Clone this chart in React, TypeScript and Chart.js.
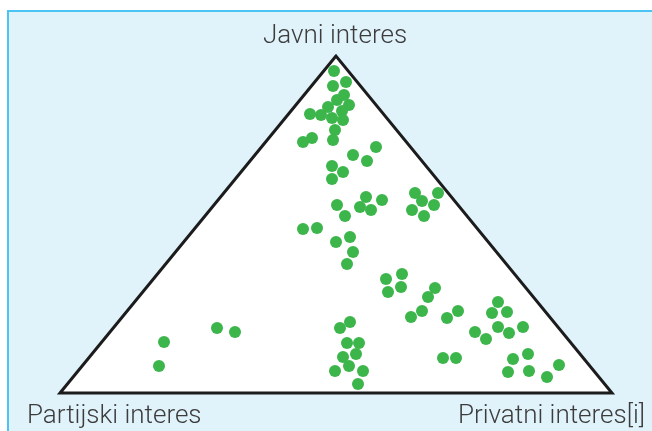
import React, { useEffect, useRef } from "react";
import { Chart, registerables } from "chart.js";

Chart.register(...registerables);

// Corner labels of the triangle (top, bottom-left, bottom-right)
const cornerLabels = ["Javni interes", "Partijski interes", "Privatni interes[i]"];

// Triangle vertices in data units (x along base, y = height above base);
// the outline revisits the first edge so every corner gets a mitred join
const triangleX = [0, 276, 552, 0, 276];
const triangleY = [0, 337, 0, 0, 337];

// Dot positions
const dotX = [
  274, 286, 273, 284, 277, 289, 268, 282, 250, 261, 272, 283, 275, 252, 243, 273,
  316, 293, 307, 272, 283, 272, 355, 378, 362, 306, 322, 277, 300, 311, 352, 374,
  285, 364, 243, 257, 290, 276, 293, 287, 326, 342, 328, 341, 375, 368, 362, 351,
  398, 387, 438, 432, 447, 415, 426, 438, 449, 463, 383, 396, 453, 468, 448, 469,
  487, 499, 104, 99, 157, 175, 290, 280, 287, 299, 296, 283, 289, 275, 303, 298,
];
const dotY = [
  322, 311, 307, 298, 293, 288, 286, 282, 279, 278, 275, 273, 263, 255, 251, 253,
  246, 238, 232, 227, 221, 214, 200, 200, 192, 196, 193, 188, 186, 183, 183, 188,
  177, 177, 164, 165, 156, 151, 141, 129, 114, 119, 101, 106, 105, 96, 82, 76,
  82, 75, 91, 80, 81, 61, 54, 66, 60, 66, 35, 35, 34, 39, 21, 22,
  16, 28, 51, 27, 65, 61, 71, 65, 50, 50, 39, 36, 27, 22, 22, 9,
];

const W = 652;
const H = 431;

const trianglePlugin = {
  id: "triangleFill",
  beforeDatasetsDraw(chart: any) {
    const ctx = chart.ctx;
    const xs = chart.scales.x;
    const ys = chart.scales.y;
    ctx.save();
    ctx.beginPath();
    for (let i = 0; i < 3; i++) {
      const px = xs.getPixelForValue(triangleX[i]);
      const py = ys.getPixelForValue(triangleY[i]);
      if (i === 0) ctx.moveTo(px, py);
      else ctx.lineTo(px, py);
    }
    ctx.closePath();
    ctx.fillStyle = "#ffffff";
    ctx.fill();
    ctx.restore();
  },
};

const labelPlugin = {
  id: "cornerLabels",
  afterDraw(chart: any) {
    const ctx = chart.ctx;
    const xs = chart.scales.x;
    const ys = chart.scales.y;
    const apexX = xs.getPixelForValue(triangleX[1]);
    const apexY = ys.getPixelForValue(triangleY[1]);
    const leftX = xs.getPixelForValue(triangleX[0]);
    const baseY = ys.getPixelForValue(triangleY[0]);
    const rightX = xs.getPixelForValue(triangleX[2]);
    ctx.save();
    ctx.font = "300 26px Roboto, 'Liberation Sans', sans-serif";
    ctx.fillStyle = "#3c3c3c";
    ctx.textBaseline = "alphabetic";
    ctx.textAlign = "center";
    ctx.fillText(cornerLabels[0], apexX - 1, apexY - 13);
    ctx.textAlign = "left";
    ctx.fillText(cornerLabels[1], leftX - 33, baseY + 30);
    ctx.textAlign = "right";
    ctx.fillText(cornerLabels[2], rightX + 33, baseY + 30);
    ctx.restore();
  },
};

export default function App() {
  const ref = useRef<HTMLCanvasElement>(null);

  useEffect(() => {
    if (!ref.current) return;
    const chart = new Chart(ref.current, {
      type: "scatter",
      data: {
        datasets: [
          {
            type: "line",
            data: triangleX.map((x, i) => ({ x, y: triangleY[i] })),
            borderColor: "#1c1c1c",
            borderWidth: 3,
            fill: false,
            tension: 0,
            pointRadius: 0,
            borderJoinStyle: "miter",
            showLine: true,
            order: 2,
          } as any,
          {
            data: dotX.map((x, i) => ({ x, y: dotY[i] })),
            backgroundColor: "#3cb54b",
            borderWidth: 0,
            pointRadius: 6,
            order: 1,
          },
        ],
      },
      options: {
        animation: false,
        responsive: false,
        devicePixelRatio: 1,
        layout: { padding: 0, autoPadding: false },
        plugins: { legend: { display: false }, tooltip: { enabled: false }, title: { display: false } },
        scales: {
          x: { type: "linear", min: -60, max: 592, display: false },
          y: { type: "linear", min: -38, max: 393, display: false },
        },
      } as any,
      plugins: [trianglePlugin, labelPlugin],
    });
    return () => chart.destroy();
  }, []);

  return (
    <div style={{ position: "fixed", left: 0, top: 0, width: W, height: H, overflow: "hidden", background: "#ffffff" }}>
      <div
        style={{
          position: "absolute",
          left: 7,
          top: 10,
          width: 700,
          height: 500,
          background: "#e0f2fa",
          borderLeft: "2px solid #4cc4f3",
          borderTop: "2px solid #4cc4f3",
        }}
      />
      <canvas ref={ref} width={W} height={H} style={{ position: "absolute", left: 0, top: 0, width: W, height: H }} />
    </div>
  );
}
